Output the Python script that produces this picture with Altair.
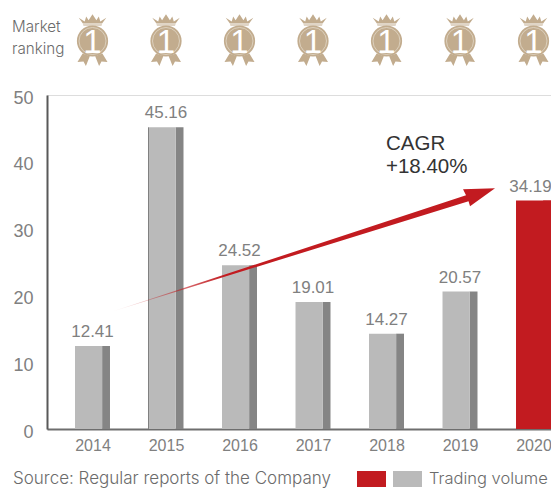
import altair as alt
import pandas as pd

years = [2014, 2015, 2016, 2017, 2018, 2019, 2020]
volumes = [12.41, 45.16, 24.52, 19.01, 14.27, 20.57, 34.19]
front_colors = ["#BABABA"] * 6 + ["#C21B20"]
side_colors = ["#858585"] * 6 + ["#C21B20"]
medal_label = "1"

TXT = "#808080"
LABEL_FONT = "Liberation Sans"
BODY_FONT = "Inter"
GOLD = "#C2AC8E"
RED = "#C21B20"
FOOT_Y = 479

df = pd.DataFrame({"year": years, "volume": volumes, "front": front_colors, "side": side_colors, "medal": medal_label})

x_scale = alt.Scale(domain=[2013.381, 2020.238], nice=False, zero=False)
y_scale = alt.Scale(domain=[0, 50], nice=False)


def glyph(points, cx, cy, unit):
    parts = [f"{(px - cx) / unit:.4f},{(py - cy) / unit:.4f}" for px, py in points]
    return "M" + "L".join(parts) + "Z"


base = alt.Chart(df).transform_calculate(z="0")

x_axis = alt.Axis(values=years, format="d", title=None, ticks=False, grid=False, labelFont=LABEL_FONT,
                  labelFontSize=16, labelColor=TXT, labelPadding=8, domainColor="#6E6E6E", domainWidth=2, labelFlush=False)
y_axis = alt.Axis(values=[0, 10, 20, 30, 40, 50], title=None, ticks=False, grid=False, labelFont=LABEL_FONT,
                  labelFontSize=18, labelColor=TXT, labelPadding=14, labelOffset=3, domainColor="#595959", domainWidth=2,
                  labelFlush=False)

side = base.transform_calculate(a="datum.year+0.131", b="datum.year+0.238").mark_rect().encode(
    x=alt.X("a:Q", scale=x_scale, axis=x_axis), x2="b:Q",
    y=alt.Y("volume:Q", scale=y_scale, axis=y_axis), y2="z:Q",
    color=alt.Color("side:N", scale=None),
)
front = base.transform_calculate(
    a="datum.year-0.238", b="datum.year == 2020 ? datum.year+0.238 : datum.year+0.131"
).mark_rect().encode(
    x=alt.X("a:Q", scale=x_scale), x2="b:Q",
    y=alt.Y("volume:Q", scale=y_scale), y2="z:Q",
    color=alt.Color("front:N", scale=None),
)
edge = base.transform_filter("datum.year == 2015").transform_calculate(a="datum.year-0.238").mark_rule(
    color="#808080", strokeWidth=1).encode(
    x=alt.X("a:Q", scale=x_scale), y=alt.Y("volume:Q", scale=y_scale), y2="z:Q",
)
values = base.transform_filter("datum.year < 2020").mark_text(
    font=LABEL_FONT, fontSize=17, color=TXT, baseline="bottom", dy=-5).encode(
    x=alt.X("year:Q", scale=x_scale), y=alt.Y("volume:Q", scale=y_scale), text=alt.Text("volume:Q", format=".2f"),
)
value_last = base.transform_filter("datum.year == 2020").mark_text(
    font=LABEL_FONT, fontSize=17, color=TXT, baseline="bottom", dy=-5, dx=-3).encode(
    x=alt.X("year:Q", scale=x_scale), y=alt.Y("volume:Q", scale=y_scale), text=alt.Text("volume:Q", format=".2f"),
)

# medals, drawn around their shared centre
MEDAL_Y = -55
crown = ("M-0.46,-0.74L-0.26,-0.62L-0.21,-0.78L-0.13,-0.66L0,-0.86L0.13,-0.66L0.21,-0.78L0.26,-0.62L0.46,-0.74"
         "L0.32,-0.55L-0.32,-0.55ZM-0.32,-0.52L0.32,-0.52L0.30,-0.48L-0.30,-0.48Z")
ribbons = ("M-0.33,0.45L-0.09,0.54L-0.22,0.87L-0.30,0.72L-0.50,0.73Z"
           "M0.33,0.45L0.09,0.54L0.22,0.87L0.30,0.72L0.50,0.73Z")
disc = base.mark_point(shape="circle", filled=True, fill=GOLD, opacity=1, strokeWidth=0, size=975).encode(
    x=alt.X("year:Q", scale=x_scale), y=alt.value(MEDAL_Y + 1))
ring = base.mark_point(shape="circle", filled=False, stroke="#E2D8C8", opacity=1, strokeWidth=0.8, size=730).encode(
    x=alt.X("year:Q", scale=x_scale), y=alt.value(MEDAL_Y + 1))
crown_m = base.mark_point(shape=crown, filled=True, fill=GOLD, opacity=1, strokeWidth=0, size=3600).encode(
    x=alt.X("year:Q", scale=x_scale), y=alt.value(MEDAL_Y))
ribbon_m = base.mark_point(shape=ribbons, filled=True, fill=GOLD, opacity=1, strokeWidth=0, size=3600).encode(
    x=alt.X("year:Q", scale=x_scale), y=alt.value(MEDAL_Y))
one = base.mark_text(font=LABEL_FONT, fontSize=33, color="white", baseline="middle", dy=2).encode(
    x=alt.X("year:Q", scale=x_scale), y=alt.value(MEDAL_Y + 1), text="medal:N")

# arrow
CX, CY, U = 304, 250, 200
arrow_pts = [(110, 313), (466, 196), (463, 190), (495, 189), (470, 207), (468.5, 202)]
arrow = alt.Chart(pd.DataFrame({"year": [2016.878], "v": [26.9]})).mark_point(
    shape=glyph(arrow_pts, CX, CY, U), filled=True, opacity=1, strokeWidth=0, size=(2 * U) ** 2,
    fill=alt.LinearGradient(gradient="linear", x1=0, x2=1, y1=0, y2=0, stops=[
        alt.GradientStop(color="rgba(194,27,32,0)", offset=0),
        alt.GradientStop(color=RED, offset=0.3),
        alt.GradientStop(color=RED, offset=1),
    ]),
).encode(x=alt.X("year:Q", scale=x_scale), y=alt.Y("v:Q", scale=y_scale))


def label(txt, px, py, font=BODY_FONT, size=15.2, color="#6B6B6B", weight=300, align="left"):
    return alt.Chart(pd.DataFrame({"t": [txt]})).mark_text(
        font=font, fontSize=size, color=color, fontWeight=weight, align=align, baseline="middle"
    ).encode(x=alt.value(px - 47), y=alt.value(py - 95), text="t:N")


def box(color, x0, x1, y0, y1):
    return alt.Chart(pd.DataFrame({"c": [color]})).mark_rect(color=color).encode(
        x=alt.value(x0 - 47), x2=alt.value(x1 - 47), y=alt.value(y0 - 95), y2=alt.value(y1 - 95))


annots = [
    label("Market", 12, 27), label("ranking", 12, 49),
    label("CAGR", 386, 144, font=LABEL_FONT, size=20.5, color="#333333", weight=400),
    label("+18.40%", 386, 167, font=LABEL_FONT, size=20.5, color="#333333", weight=400),
    label("Source: Regular reports of the Company", 13, FOOT_Y, size=17),
    label("Trading volume", 429, FOOT_Y, size=16.5),
    box(RED, 357, 386, FOOT_Y - 8, FOOT_Y + 8),
    box("#BABABA", 393, 422, FOOT_Y - 8, FOOT_Y + 8),
]

chart = alt.layer(side, front, edge, arrow, values, value_last, ribbon_m, disc, ring, crown_m, one, *annots).properties(
    width=504, height=334,
    padding={"left": 39, "top": 87, "right": 0, "bottom": 60},
).configure_view(stroke=None).configure(autosize=alt.AutoSizeParams(type="none"))

chart.save("out.html", embed_options={"renderer": "svg", "actions": False})
